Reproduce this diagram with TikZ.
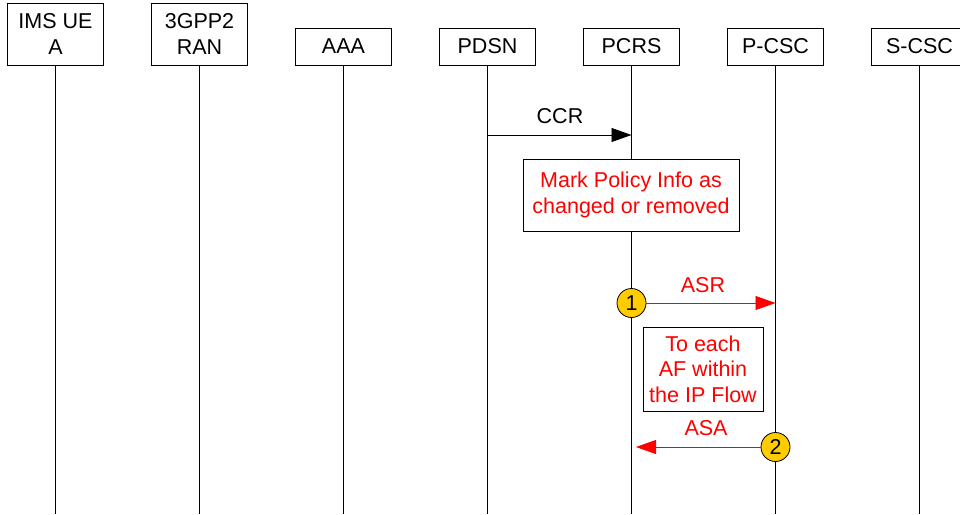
\documentclass[tikz,border=0pt]{standalone}
\usepackage{fontspec}
\setmainfont{Liberation Sans}
\usetikzlibrary{arrows.meta}
\definecolor{circfill}{HTML}{FFCC00}
\begin{document}
\begin{tikzpicture}[x=1pt,y=-1pt,
  every node/.style={font=\fontsize{21.5}{25.5}\selectfont},
  hdr/.style={draw,line width=0.8pt,minimum width=96pt,inner sep=0pt,align=center},
  life/.style={line width=0.8pt},
  msg/.style={line width=0.8pt,-{Triangle[length=20pt,width=14pt]}},
  redmsg/.style={msg,red},
  notebox/.style={draw,line width=0.8pt,text=red,align=center,inner sep=0pt},
  lbl/.style={inner sep=0pt},
  numcirc/.style={circle,draw,line width=0.8pt,fill=circfill,minimum size=29pt,inner sep=0pt}]
\useasboundingbox (0,0) rectangle (960,514);
\clip (0,0) rectangle (960,514);
% header boxes
\node[hdr,minimum height=62pt] (ue)   at (55.5,34)  {IMS UE\\A};
\node[hdr,minimum height=62pt] (ran)  at (199.5,34) {3GPP2\\RAN};
\node[hdr,minimum height=37pt] (aaa)  at (343.5,46.5) {AAA};
\node[hdr,minimum height=37pt] (pdsn) at (487.5,46.5) {PDSN};
\node[hdr,minimum height=37pt] (pcrs) at (631.5,46.5) {PCRS};
\node[hdr,minimum height=37pt] (pcsc) at (775.5,46.5) {P-CSC};
\node[hdr,minimum height=37pt] (scsc) at (919.5,46.5) {S-CSC};
% lifeline ends
\foreach \n/\x in {ue/55.5,ran/199.5,aaa/343.5,pdsn/487.5,pcrs/631.5,pcsc/775.5,scsc/919.5}{
  \coordinate (\n-end) at (\x,514);
  \draw[life] (\n.south) -- (\n-end);
}
% CCR
\coordinate (ccr-s) at (487.5,135);
\coordinate (ccr-e) at (631.5,135);
\draw[msg] (ccr-s) -- (ccr-e);
\node[lbl] (ccrl) at (560,116) {CCR};
% Mark box
\node[notebox,minimum width=216pt,minimum height=72pt,fill=white] (mark) at (631,195) {Mark Policy Info as\\changed or removed};
% ASR
\node[numcirc] (c1) at (631.5,303) {1};
\coordinate (asr-e) at (775.5,303);
\draw[redmsg] (c1) -- (asr-e);
\node[lbl,text=red] (asrl) at (703,285) {ASR};
% To each AF box
\node[notebox,minimum width=120pt,minimum height=84pt,fill=white] (af) at (703,369) {To each\\AF within\\the IP Flow};
% ASA
\node[numcirc] (c2) at (775.5,447) {2};
\coordinate (asa-e) at (636,447);
\draw[redmsg] (c2) -- (asa-e);
\node[lbl,text=red] (asal) at (706,428) {ASA};
\end{tikzpicture}
\end{document}
